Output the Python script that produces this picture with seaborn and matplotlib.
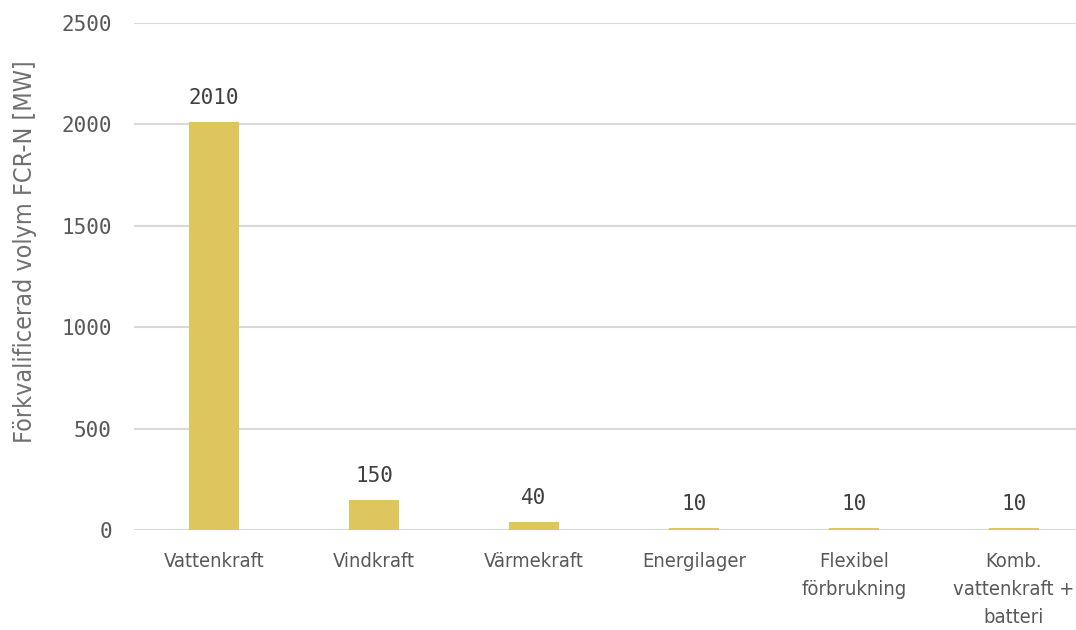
import matplotlib
matplotlib.use('Agg')
import matplotlib.pyplot as plt
import seaborn as sns
import pandas as pd

# data
categories = ['Vattenkraft', 'Vindkraft', 'Värmekraft', 'Energilager',
              'Flexibel\nförbrukning', 'Komb.\nvattenkraft +\nbatteri']
volumes = [2010, 150, 40, 10, 10, 10]
y_ticks = [0, 500, 1000, 1500, 2000, 2500]

df = pd.DataFrame({'kategori': categories, 'volym': volumes})

sns.set_theme(style='white')
plt.rcParams['font.family'] = ['DejaVu Sans Mono']

fig = plt.figure(figsize=(10.76, 6.3), dpi=100)
ax = fig.add_axes([134 / 1076, 100 / 630, 960 / 1076, 507 / 630])

sns.barplot(data=df, x='kategori', y='volym', color='#DEC55E', width=0.31,
            saturation=1, linewidth=0, ax=ax, zorder=3)

ax.set_ylim(0, 2500)
ax.set_xlim(-0.5, 5.5)
ax.set_yticks(y_ticks)
ax.set_yticklabels([str(t) for t in y_ticks], fontsize=15, color='#595959')
ax.yaxis.grid(True, color='#d9d9d9', linewidth=1.5, zorder=0)
ax.set_axisbelow(True)
for s in ax.spines.values():
    s.set_visible(False)
ax.tick_params(axis='both', length=0)
ax.tick_params(axis='y', pad=16)
ax.set_xticks(range(len(categories)))
ax.set_xticklabels(categories, fontsize=14.5, color='#595959',
                   family='DejaVu Sans', fontstretch='condensed', linespacing=1.6)
ax.tick_params(axis='x', pad=16)
ax.set_xlabel('')
ax.set_ylabel('Förkvalificerad volym FCR-N [MW]', fontsize=18, color='#707070',
              family='DejaVu Sans', fontstretch='condensed')
ax.yaxis.set_label_coords(-0.101, 0.548)

for i, v in enumerate(volumes):
    ax.annotate(str(v), (i, v), xytext=(0, 10), textcoords='offset points',
                ha='center', va='bottom', fontsize=15, color='#404040')

fig.savefig('out.png', dpi=100)
